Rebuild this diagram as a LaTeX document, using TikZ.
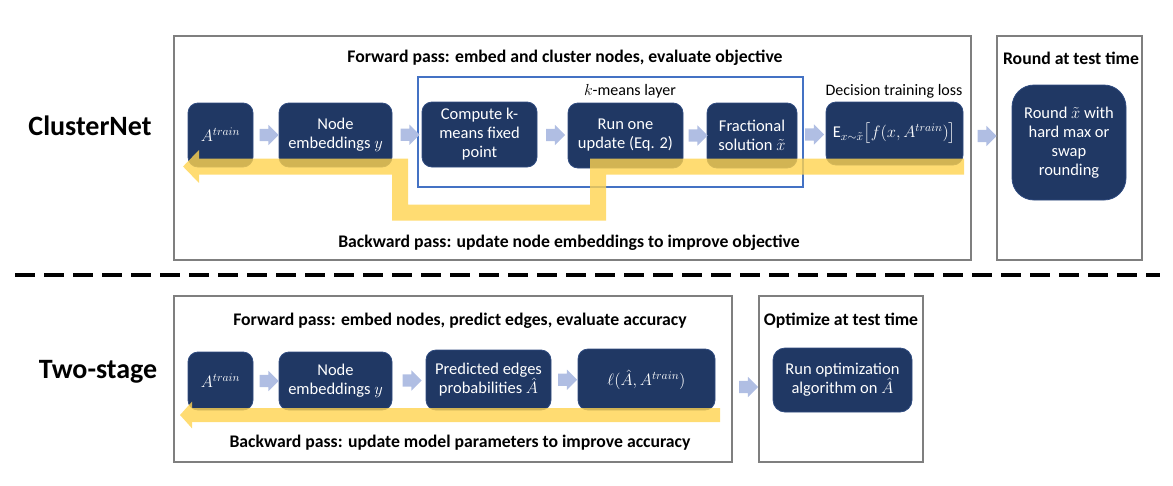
\RequirePackage{fix-cm}
\documentclass[tikz,border=0pt]{standalone}
\usepackage{amsmath}
\usepackage{fontspec}
\setmainfont{Carlito}
\usetikzlibrary{calc,shapes.arrows,arrows.meta}
\definecolor{navy}{HTML}{203864}
\definecolor{navyedge}{HTML}{2F4B80}
\definecolor{arrowc}{HTML}{B0BEE3}
\definecolor{goldc}{HTML}{FFD34F}
\definecolor{boxgray}{HTML}{7F7F7F}
\definecolor{layerblue}{HTML}{4472C4}
\tikzset{
  nd/.style={draw=navyedge, line width=0.8pt, fill=navy, rounded corners=10pt,
    text=white, align=center, inner sep=1pt, font=\fontsize{16.5}{19}\selectfont},
  outerbox/.style={draw=boxgray, line width=1.3pt, inner sep=0pt},
  title/.style={font=\fontsize{17.7}{21}\selectfont\bfseries, inner sep=0pt},
  lbl/.style={font=\fontsize{16}{19}\selectfont, inner sep=0pt},
  side/.style={font=\fontsize{28}{32}\selectfont\bfseries, inner sep=0pt},
  blk/.style={single arrow, fill=arrowc, draw=none, minimum height=19pt,
    inner xsep=0pt, inner ysep=6pt, single arrow head extend=4pt, single arrow tip angle=90},
  back/.style={draw=goldc, line join=miter},
}
\begin{document}
\begin{tikzpicture}[x=1pt,y=-1pt]
\useasboundingbox (0,0) rectangle (1173,485);
% outer boxes
\node[outerbox, minimum width=797pt, minimum height=224pt] (topbox) at (572.5,148) {};
\node[outerbox, minimum width=145pt, minimum height=224pt] (roundbox) at (1069.5,148) {};
\node[outerbox, minimum width=558pt, minimum height=166pt] (botbox) at (453,379) {};
\node[outerbox, minimum width=164pt, minimum height=166pt] (optbox) at (841,379) {};
% k-means layer
\node[draw=layerblue, line width=1.5pt, minimum width=385pt, minimum height=110pt, inner sep=0pt] (layer) at (610.5,132) {};
% side labels
\node[side] (cn) at (90,126) {ClusterNet};
\node[side] (ts) at (98,372) {Two-stage};
% dashed separator
\coordinate (dl) at (15,275);
\coordinate (dr) at (1160,275);
\draw[line width=3.5pt, dash pattern=on 20pt off 9pt] (dl) -- (dr);
% titles
\node[title] (t1) at (565,58) {Forward pass: embed and cluster nodes, evaluate objective};
\node[title] (t2) at (569,243) {Backward pass: update node embeddings to improve objective};
\node[title] (t3) at (1071,58) {Round at test time};
\node[title] (t4) at (460,321) {Forward pass: embed nodes, predict edges, evaluate accuracy};
\node[title] (t5) at (460,443) {Backward pass: update model parameters to improve accuracy};
\node[title] (t6) at (841,321) {Optimize at test time};
\node[lbl] (kl) at (630,91) {$k$-means layer};
\node[lbl] (dtl) at (894,91) {Decision training loss};
% top nodes
\node[nd, minimum width=65pt, minimum height=64pt] (a1) at (220.5,135) {$A^{train}$};
\node[nd, minimum width=113pt, minimum height=64pt] (n1) at (335.5,135) {Node\\embeddings $y$};
\node[nd, minimum width=115pt, minimum height=65pt] (c1) at (479.5,134.5) {Compute k-\\means fixed\\point};
\node[nd, minimum width=115pt, minimum height=65pt] (r1) at (625.5,135.5) {Run one\\update (Eq. 2)};
\node[nd, minimum width=90pt, minimum height=65pt] (f1) at (752,135.5) {Fractional\\solution $\tilde{x}$};
\node[nd, minimum width=137pt, minimum height=63pt] (e1) at (894.5,133.5) {$\mathrm{E}_{x\sim\tilde{x}}\big[f(x,A^{train})\big]$};
\node[nd, rounded corners=22pt, minimum width=114pt, minimum height=115pt] (ro) at (1069,142.5) {Round $\tilde{x}$ with\\hard max or\\swap\\rounding};
% bottom nodes
\node[nd, minimum width=65pt, minimum height=58pt] (a2) at (220.5,381) {$A^{train}$};
\node[nd, minimum width=113pt, minimum height=58pt] (n2) at (335.5,381) {Node\\embeddings $y$};
\node[nd, minimum width=125pt, minimum height=60pt] (p2) at (488.5,380) {Predicted edges\\probabilities $\hat{A}$};
\node[nd, minimum width=137pt, minimum height=61pt] (l2) at (646.5,379.5) {$\ell(\hat{A},A^{train})$};
\node[nd, rounded corners=12pt, minimum width=139pt, minimum height=64pt] (o2) at (842.5,380) {Run optimization\\algorithm on $\hat{A}$};
% forward block arrows
\node[blk] (ar1) at ($(a1.east)!0.5!(n1.west)$) {};
\node[blk] (ar2) at ($(n1.east)!0.5!(c1.west)$) {};
\node[blk] (ar3) at ($(c1.east)!0.5!(r1.west)$) {};
\node[blk] (ar4) at ($(r1.east)!0.5!(f1.west)$) {};
\node[blk] (ar5) at ($(f1.east)!0.5!(e1.west)$) {};
\node[blk] (ar6) at ($(topbox.east)!0.5!(roundbox.west)+(0,-12)$) {};
\node[blk] (br1) at ($(a2.east)!0.5!(n2.west)$) {};
\node[blk] (br2) at ($(n2.east)!0.5!(p2.west)$) {};
\node[blk] (br3) at ($(p2.east)!0.5!(l2.west)$) {};
\node[blk] (br4) at ($(botbox.east)!0.5!(optbox.west)+(0,8)$) {};
% backward yellow arrows
\coordinate (ys) at (964,166.5);
\coordinate (y1) at (598,166.5);
\coordinate (y2) at (598,212.5);
\coordinate (y3) at (400,212.5);
\coordinate (y4) at (400,166.5);
\coordinate (ye) at (183,166.5);
\begin{scope}[transparency group, opacity=0.8]
\draw[back, line width=16pt, -{Triangle[length=16pt,width=32pt]}] (ys) -- (y1) -- (y2) -- (y3) -- (y4) -- (ye);
\end{scope}
\coordinate (zs) at (720,415);
\coordinate (ze) at (180,415);
\begin{scope}[transparency group, opacity=0.8]
\draw[back, line width=14pt, -{Triangle[length=12pt,width=26pt]}] (zs) -- (ze);
\end{scope}
\end{tikzpicture}
\end{document}
